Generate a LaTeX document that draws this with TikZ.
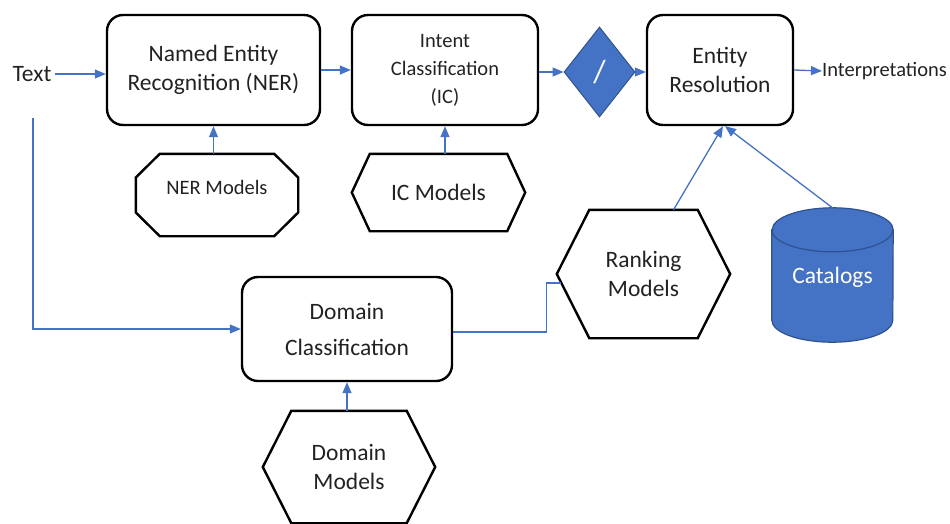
\documentclass[tikz,border=0pt]{standalone}
\usepackage{fontspec}
\setmainfont{Carlito}
\usetikzlibrary{arrows.meta,shapes.geometric,calc}
\definecolor{bline}{HTML}{4472C4}
\definecolor{bdark}{HTML}{2F528F}
\definecolor{txt}{HTML}{222222}
\newcommand\fsBig{\fontsize{23.5}{29}\selectfont}
\newcommand\fsDom{\fontsize{23.5}{36}\selectfont}
\newcommand\fsSmall{\fontsize{20.5}{28}\selectfont}
\newcommand\fsSlash{\fontsize{32}{32}\selectfont}
\tikzset{
  box/.style={draw=black, line width=2.4pt, rounded corners=16pt, align=center, inner sep=0pt, text=txt},
  shapebox/.style={inner sep=0pt, align=center, text=txt},
  shapeline/.style={draw=black, line width=2.4pt, line join=miter},
  conn/.style={draw=bline, line width=1.3pt, -{Triangle[length=11pt,width=9pt]}},
  plainconn/.style={draw=bline, line width=1.3pt},
}
\begin{document}
\begin{tikzpicture}[x=1pt,y=-1pt]
\path[use as bounding box] (0,0) rectangle (950,523);
\clip (0,0) rectangle (950,523);

% top row
\node[text=txt, font=\fsBig] (text) at (32,74) {Text};
\node[box, minimum width=213pt, minimum height=110pt, font=\fsBig] (ner) at (213.5,70) {Named Entity\\Recognition (NER)};
\node[box, minimum width=186pt, minimum height=110pt, font=\fsSmall] (ic) at (445,70) {Intent\\Classification\\(IC)};
\node[diamond, draw=bdark, line width=1pt, fill=bline, minimum width=71pt, minimum height=90pt, inner sep=0pt, text=white, font=\fsSlash] (dia) at (599.5,72) {/};
\node[box, minimum width=146pt, minimum height=110pt, font=\fsBig] (er) at (720,70) {Entity\\Resolution};
\node[text=txt, font=\fsSmall, anchor=west, inner sep=0pt] (interp) at (822,71) {Interpretations};

% NER models octagon
\node[shapebox, minimum width=162pt, minimum height=82pt] (nerm) at (217,195) {};
\draw[shapeline] ([yshift=17.5pt]nerm.west) -- ([xshift=24pt]nerm.north west) -- ([xshift=-24pt]nerm.north east)
  -- ([yshift=17.5pt]nerm.east) -- ([yshift=-17.5pt]nerm.east) -- ([xshift=-24pt]nerm.south east)
  -- ([xshift=24pt]nerm.south west) -- ([yshift=-17.5pt]nerm.west) -- cycle;
\node[text=txt, font=\fsSmall] (nermt) at ([yshift=8pt]nerm.center) {NER Models};

% IC models hexagon
\node[shapebox, minimum width=173pt, minimum height=77pt, font=\fsBig] (icm) at (438.5,192.5) {IC Models};
\draw[shapeline] (icm.west) -- ([xshift=18pt]icm.north west) -- ([xshift=-18pt]icm.north east) -- (icm.east)
  -- ([xshift=-18pt]icm.south east) -- ([xshift=18pt]icm.south west) -- cycle;

% Ranking models hexagon
\node[shapebox, minimum width=173pt, minimum height=128pt, font=\fsBig, text depth=0pt] (rank) at (643.5,274) {Ranking\\Models};
\draw[shapeline] (rank.west) -- ([xshift=32.5pt]rank.north west) -- ([xshift=-32.5pt]rank.north east) -- (rank.east)
  -- ([xshift=-32.5pt]rank.south east) -- ([xshift=32.5pt]rank.south west) -- cycle;

% Catalogs cylinder
\node[shapebox, minimum width=121pt, minimum height=134pt] (cat) at (832.5,275) {};
\filldraw[fill=bline, draw=bdark, line width=1.2pt]
  ([yshift=-22pt]cat.north west) -- ([yshift=22pt]cat.south west)
  arc[start angle=180, end angle=360, x radius=60.5pt, y radius=22pt]
  -- ([yshift=-22pt]cat.north east)
  arc[start angle=0, end angle=180, x radius=60.5pt, y radius=22pt] -- cycle;
\draw[draw=bdark, line width=1.2pt] ([yshift=-22pt]cat.north west)
  arc[start angle=180, end angle=360, x radius=60.5pt, y radius=22pt];
\node[text=white, font=\fsBig] (catt) at ([yshift=-2pt]cat.center) {Catalogs};

% Domain classification
\node[box, minimum width=210pt, minimum height=104pt, font=\fsDom] (dom) at (347,329) {Domain\\Classification};

% Domain models hexagon
\node[shapebox, minimum width=172pt, minimum height=112pt, font=\fsBig] (domm) at (349,467) {Domain\\Models};
\draw[shapeline] (domm.west) -- ([xshift=28.5pt]domm.north west) -- ([xshift=-28.5pt]domm.north east) -- (domm.east)
  -- ([xshift=-28.5pt]domm.south east) -- ([xshift=28.5pt]domm.south west) -- cycle;

% connectors
\draw[conn] (text.east) -- (text.east -| ner.west);
\draw[conn] (ner.east) -- (ic.west);
\draw[conn] (dia.west -| ic.east) -- (dia.west);
\draw[conn] (dia.east) -- (dia.east -| er.west);
\draw[conn] (er.east) -- (interp.west);
\draw[conn] (nerm.north -| ner.south) -- (ner.south);
\draw[conn] (icm.north -| ic.south) -- (ic.south);
\draw[conn] ([xshift=30pt]rank.north) -- ([xshift=3pt]er.south);
\draw[conn] (cat.north) -- ([xshift=5pt]er.south);
\draw[conn, shorten <=33pt] ([xshift=1pt]text.south) |- (dom.west);
\coordinate (rk) at ([xshift=4.5pt,yshift=-9pt]rank.west);
\draw[plainconn] ([yshift=-3pt]dom.east) -- ++(93,0) |- (rk);
\draw[conn] (domm.north -| dom.south) -- (dom.south);
\end{tikzpicture}
\end{document}
